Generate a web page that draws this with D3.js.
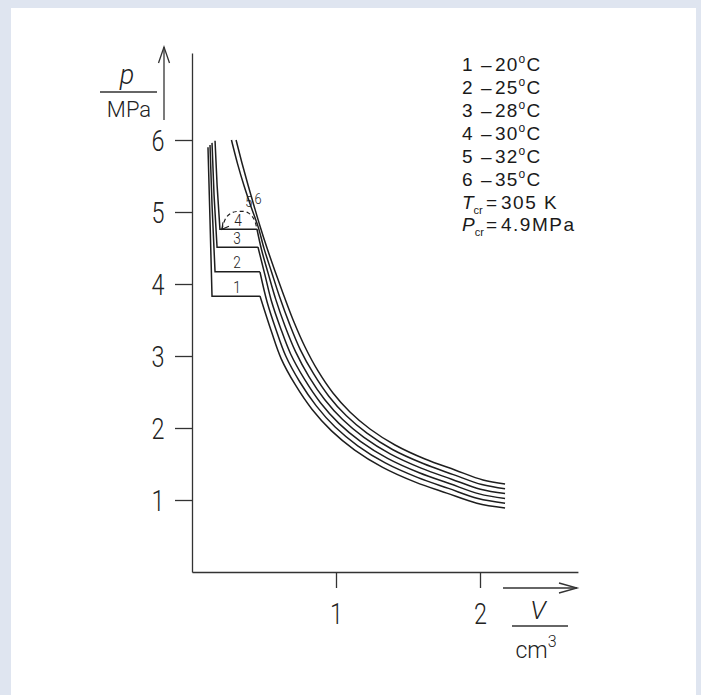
<!DOCTYPE html>
<html>
<head>
<meta charset="utf-8">
<script src="https://cdn.jsdelivr.net/npm/d3@7"></script>
<style>
  body { margin: 0; background: #dfe5f0; }
  svg { display: block; }
</style>
</head>
<body>
<div id="chart"></div>
<script>
// p-V isotherms, V in cm3, p in MPa
const temps = ['20', '25', '28', '30', '32', '35'];
const xTicks = [1, 2];
const yTicks = [1, 2, 3, 4, 5, 6];

// liquid branch + two-phase plateau, [V, p]
const liquid1 = [[0.111, 5.90], [0.125, 4.89], [0.139, 3.83], [0.472, 3.83]];
const liquid2 = [[0.125, 5.93], [0.139, 5.10], [0.160, 4.17], [0.472, 4.17]];
const liquid3 = [[0.139, 5.96], [0.153, 5.24], [0.174, 4.51], [0.458, 4.51]];
const liquid4 = [[0.160, 5.99], [0.174, 5.38], [0.194, 4.76], [0.451, 4.76]];

// gas branches, [V, p]
const gas1 = [[0.472, 3.833], [0.551, 3.343], [0.619, 2.964], [0.717, 2.601], [0.833, 2.261], [0.969, 1.960],
  [1.130, 1.694], [1.324, 1.454], [1.551, 1.249], [1.769, 1.096], [1.978, 0.956], [2.174, 0.889]];
const gas2 = [[0.472, 4.167], [0.522, 3.747], [0.583, 3.369], [0.652, 2.996], [0.749, 2.639], [0.863, 2.307],
  [0.994, 2.013], [1.151, 1.753], [1.342, 1.515], [1.565, 1.314], [1.781, 1.161], [1.986, 1.021], [2.174, 0.956]];
const gas3 = [[0.458, 4.514], [0.506, 4.131], [0.551, 3.768], [0.614, 3.394], [0.685, 3.028], [0.781, 2.678],
  [0.892, 2.351], [1.020, 2.064], [1.172, 1.811], [1.358, 1.578], [1.578, 1.378], [1.792, 1.225], [1.995, 1.085], [2.174, 1.022]];
const gas4 = [[0.451, 4.764], [0.483, 4.475], [0.529, 4.147], [0.581, 3.790], [0.645, 3.421], [0.719, 3.061],
  [0.812, 2.715], [0.921, 2.396], [1.046, 2.117], [1.194, 1.869], [1.376, 1.640], [1.591, 1.442], [1.803, 1.289],
  [2.003, 1.149], [2.174, 1.089]];
const gas5 = [[0.274, 6.000], [0.317, 5.665], [0.362, 5.360], [0.410, 5.072], [0.459, 4.797], [0.501, 4.488],
  [0.553, 4.164], [0.610, 3.811], [0.677, 3.446], [0.751, 3.093], [0.844, 2.754], [0.950, 2.442], [1.072, 2.169],
  [1.215, 1.928], [1.392, 1.701], [1.605, 1.506], [1.815, 1.353], [2.013, 1.214], [2.174, 1.156]];
const gas6 = [[0.306, 6.000], [0.347, 5.681], [0.389, 5.375], [0.431, 5.083], [0.472, 4.806], [0.521, 4.500],
  [0.576, 4.181], [0.639, 3.833], [0.708, 3.472], [0.785, 3.125], [0.875, 2.792], [0.979, 2.486], [1.097, 2.222],
  [1.236, 1.986], [1.410, 1.764], [1.618, 1.569], [1.826, 1.417], [2.021, 1.278], [2.174, 1.222]];

// dashed saturation dome near the critical point
const dome = [[0.208, 4.76], [0.236, 4.92], [0.278, 4.99], [0.333, 5.01], [0.389, 4.99], [0.431, 4.90], [0.451, 4.76]];

// curve numbers: [label, V, p]
const curveLabels = [['1', 0.313, 3.96], ['2', 0.313, 4.30], ['3', 0.313, 4.63], ['4', 0.319, 4.89], ['5', 0.394, 5.14], ['6', 0.458, 5.19]];

const W = 701, H = 695;
const ink = '#1e1e1e';
const thinFont = "Roboto, 'DejaVu Sans', sans-serif";

const svg = d3.select('#chart').append('svg')
  .attr('width', W)
  .attr('height', H);

svg.append('rect')
  .attr('x', 11).attr('y', 8)
  .attr('width', 685).attr('height', 687)
  .attr('fill', '#fff');

const x = d3.scaleLinear().domain([0, 2.68]).range([192, 192 + 2.68 * 144]);
const y = d3.scaleLinear().domain([0, 7.21]).range([572, 572 - 7.21 * 72]);

// axes
const yAxis = svg.append('g')
  .attr('transform', `translate(${x(0)},0)`)
  .call(d3.axisLeft(y).tickValues(yTicks).tickSize(17).tickSizeOuter(0).tickFormat(d3.format('d')));

const xAxis = svg.append('g')
  .attr('transform', `translate(0,${y(0)})`)
  .call(d3.axisBottom(x).tickValues(xTicks).tickSize(16).tickSizeOuter(0).tickFormat(d3.format('d')));

[yAxis, xAxis].forEach(g => {
  g.select('.domain').attr('stroke', '#333').attr('stroke-width', 1.3);
  g.selectAll('.tick line').attr('stroke', '#333').attr('stroke-width', 1.3);
  g.selectAll('.tick text')
    .attr('fill', '#222')
    .style('font-family', thinFont)
    .style('font-weight', 300)
    .style('font-size', '30px')
    .attr('text-anchor', 'middle')
    .attr('x', 0).attr('y', 0)
    .attr('dy', '0.36em');
});
yAxis.selectAll('.tick text').attr('transform', 'translate(-34,0) scale(0.78,1)');
xAxis.selectAll('.tick text').attr('transform', 'translate(0,41) scale(0.78,1)');

// axis arrows and fraction bars
const arrows = svg.append('g').attr('stroke', '#333').attr('stroke-width', 1.3).attr('fill', 'none');
arrows.append('line').attr('x1', 164).attr('y1', 120).attr('x2', 164).attr('y2', 47);
arrows.append('polyline').attr('points', '158.5,63 164,47 169.5,63');
arrows.append('line').attr('x1', 503).attr('y1', 588).attr('x2', 577).attr('y2', 588);
arrows.append('polyline').attr('points', '559,583 577,588 559,593');
arrows.append('line').attr('x1', 100).attr('y1', 92).attr('x2', 157).attr('y2', 92);
arrows.append('line').attr('x1', 512).attr('y1', 626).attr('x2', 568).attr('y2', 626);

// axis titles
const axisText = (px, py, txt, size, italic) => svg.append('text')
  .attr('x', px).attr('y', py)
  .attr('text-anchor', 'middle')
  .attr('fill', '#222')
  .style('font-family', thinFont)
  .style('font-weight', 300)
  .style('font-style', italic ? 'italic' : 'normal')
  .style('font-size', size + 'px')
  .text(txt);
axisText(127, 84, 'p', 27, true);
axisText(129, 117, 'MPa', 22, false);
axisText(538, 619, 'V', 26, true);
const cm = axisText(536, 658, 'cm', 23, false);
cm.append('tspan').attr('dy', -11).style('font-size', '16px').text('3');

// isotherms
const plot = svg.append('g').attr('fill', 'none').attr('stroke', ink).attr('stroke-width', 1.5);
const straight = d3.line().x(d => x(d[0])).y(d => y(d[1]));
const smooth = d3.line().x(d => x(d[0])).y(d => y(d[1])).curve(d3.curveCatmullRom.alpha(0.5));

[liquid1, liquid2, liquid3, liquid4].forEach(d => plot.append('path').attr('d', straight(d)));
[gas1, gas2, gas3, gas4, gas5, gas6].forEach(d => plot.append('path').attr('d', smooth(d)));

plot.append('path')
  .attr('d', smooth(dome))
  .attr('stroke-width', 1.2)
  .attr('stroke-dasharray', '4,3');
// little arrow tip at the left end of the dome
plot.append('polyline')
  .attr('points', `${x(0.208) + 1},${y(4.76) - 7} ${x(0.208)},${y(4.76)} ${x(0.208) + 7},${y(4.76) - 3}`)
  .attr('stroke-width', 1.2);

svg.append('g').selectAll('text')
  .data(curveLabels)
  .join('text')
  .attr('text-anchor', 'middle')
  .attr('transform', d => `translate(${x(d[1])},${y(d[2])}) scale(0.85,1)`)
  .attr('dy', '0.36em')
  .attr('fill', '#222')
  .style('font-family', thinFont)
  .style('font-weight', 300)
  .style('font-size', (d, i) => i < 4 ? '16px' : '15px')
  .text(d => d[0]);

// legend
const legend = svg.append('g')
  .attr('fill', '#1a1a1a')
  .style('font-family', "'Liberation Sans', Arial, sans-serif")
  .style('font-size', '19px');

temps.forEach((t, i) => {
  const row = legend.append('text').attr('y', 71 + i * 23);
  row.append('tspan').attr('x', 462).text(i + 1);
  row.append('tspan').attr('x', 481).text('\u2013');
  const val = row.append('tspan').attr('x', 495).style('letter-spacing', '1.2px');
  val.append('tspan').text(t);
  val.append('tspan').attr('dy', -8).style('font-size', '12px').text('o');
  val.append('tspan').attr('dy', 8).text('C');
});

const constRow = (by, sym, val) => {
  const row = legend.append('text').attr('y', by);
  row.append('tspan').attr('x', 462).style('font-style', 'italic').text(sym);
  row.append('tspan').attr('dy', 5).style('font-size', '11px').text('cr');
  row.append('tspan').attr('x', 486).attr('dy', -5).text('=');
  row.append('tspan').attr('x', 501).style('letter-spacing', '1.5px').text(val);
};
constRow(209, 'T', '305 K');
constRow(231, 'P', '4.9MPa');
</script>
</body>
</html>
